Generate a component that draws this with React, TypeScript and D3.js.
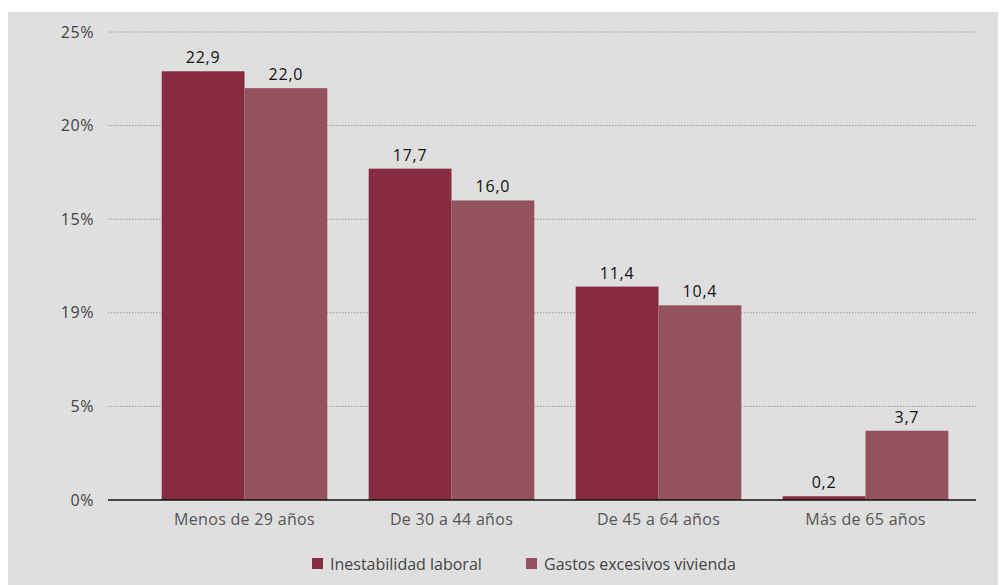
import React from "react";
import * as d3 from "d3";

const categories = ["Menos de 29 años", "De 30 a 44 años", "De 45 a 64 años", "Más de 65 años"];
const seriesNames = ["Inestabilidad laboral", "Gastos excesivos vivienda"];
const inestabilidad = [22.9, 17.7, 11.4, 0.2];
const gastos = [22.0, 16.0, 10.4, 3.7];
const tickValues = [0, 5, 10, 15, 20, 25];
const tickLabels = ["0%", "5%", "19%", "15%", "20%", "25%"];
const colors = ["#872b43", "#94525f"];

const W = 998;
const H = 577;
const OX = 8; // page offset

export default function App() {
  const y = d3.scaleLinear().domain([0, 25]).range([500 - OX, 32 - OX]);
  const x = d3.scaleBand<string>().domain(categories).range([141 - OX, 969 - OX]).paddingInner(0.2).paddingOuter(0.1);
  const x1 = d3.scaleBand<number>().domain([0, 1]).range([0, x.bandwidth()]);
  const series = [inestabilidad, gastos];
  const gridX0 = 108 - OX;
  const gridX1 = 976 - OX;
  const font = "'Open Sans', sans-serif";
  const fmt = (v: number) => v.toFixed(1).replace(".", ",");

  return (
    <svg width={W} height={H} style={{ display: "block" }} fontFamily={font}>
      <rect x={0} y={4} width={W} height={H - 4} fill="#dfdfdf" />
      {tickValues.map((t, i) => (
        <g key={t}>
          {t !== 0 && (
            <line x1={gridX0} x2={gridX1} y1={y(t)} y2={y(t)} stroke="#9a9a9a" strokeWidth={1} strokeDasharray="1.5,1.5" />
          )}
          <text x={94 - OX} y={y(t)} dy="0.35em" textAnchor="end" fontSize={16} letterSpacing={0.6} fill="#444">
            {tickLabels[i]}
          </text>
        </g>
      ))}
      {categories.map((c, ci) => (
        <g key={c} transform={`translate(${x(c)},0)`}>
          {series.map((s, si) => (
            <g key={si}>
              <rect x={x1(si)} y={y(s[ci])} width={x1.bandwidth()} height={y(0) - y(s[ci])} fill={colors[si]} />
              <text x={(x1(si) as number) + x1.bandwidth() / 2} y={y(s[ci]) - 8} textAnchor="middle" fontSize={16} letterSpacing={0.8} fill="#111" fontWeight={500}>
                {fmt(s[ci])}
              </text>
            </g>
          ))}
          <text x={x.bandwidth() / 2} y={519 - OX} dy="0.35em" textAnchor="middle" fontSize={16} letterSpacing={0.3} fill="#555">
            {c}
          </text>
        </g>
      ))}
      <line x1={gridX0} x2={gridX1} y1={y(0)} y2={y(0)} stroke="#111" strokeWidth={1.5} />
      {seriesNames.map((n, i) => {
        const lx = (i === 0 ? 312 : 526) - OX;
        return (
          <g key={n}>
            <rect x={lx} y={558 - OX} width={11} height={11} fill={colors[i]} />
            <text x={lx + 18} y={564 - OX} dy="0.35em" fontSize={16} fill="#444">
              {n}
            </text>
          </g>
        );
      })}
    </svg>
  );
}
